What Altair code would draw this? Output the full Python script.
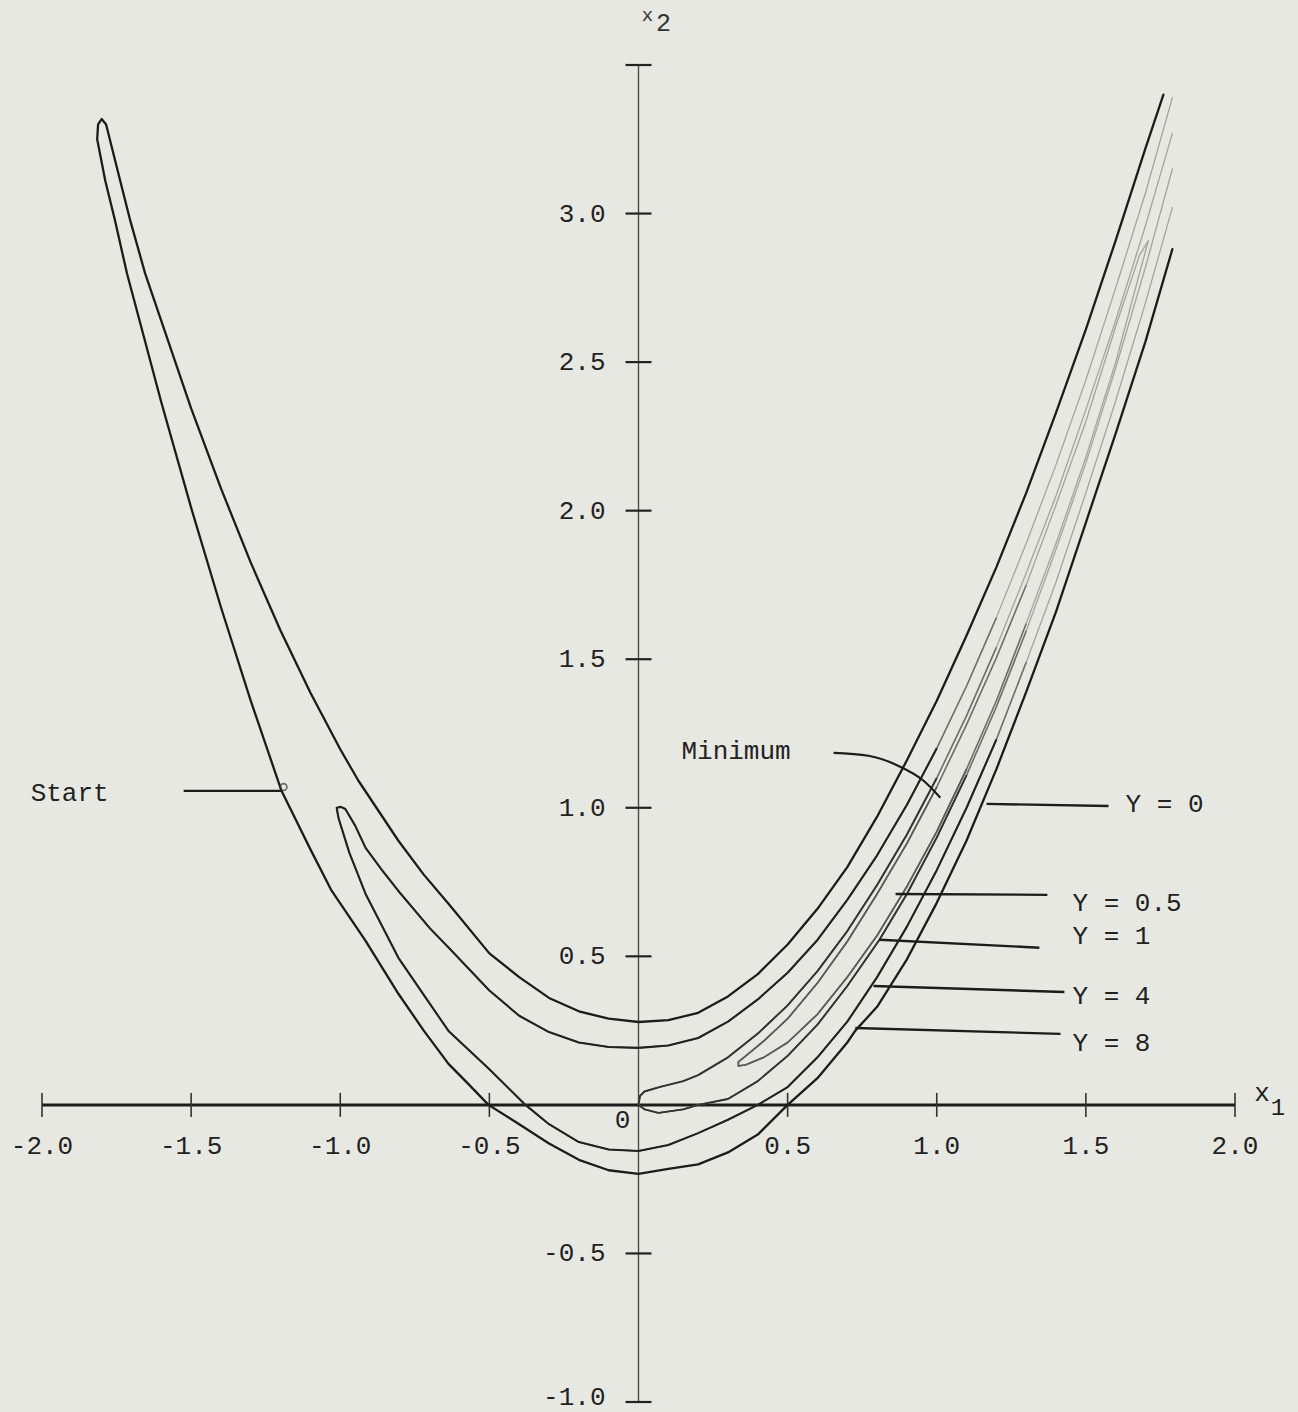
import altair as alt
import pandas as pd

# ---- contour lines of the objective, read as (x1, x2) points along each path ----
c8_x = [1.79, 1.70, 1.60, 1.50, 1.40, 1.30, 1.20, 1.10, 1.00, 0.90, 0.80, 0.727, 0.70, 0.60, 0.50,
        0.40, 0.30, 0.20, 0.10, 0.00,
        -0.10, -0.20, -0.30, -0.40, -0.503, -0.57, -0.637, -0.72, -0.805, -0.915, -1.029, -1.10, -1.197,
        -1.30, -1.40, -1.50, -1.60, -1.715, -1.755, -1.788, -1.815, -1.812, -1.800, -1.785, -1.766,
        -1.738, -1.704, -1.654, -1.50, -1.40, -1.30, -1.20, -1.10, -1.00, -0.939, -0.805, -0.72, -0.637,
        -0.50, -0.40, -0.30, -0.20, -0.10, 0.00,
        0.10, 0.20, 0.30, 0.40, 0.50, 0.60, 0.70, 0.80, 0.90, 1.00, 1.10, 1.20, 1.30, 1.40, 1.50, 1.60,
        1.70, 1.76]
c8_y = [2.88, 2.57, 2.26, 1.96, 1.66, 1.39, 1.13, 0.89, 0.68, 0.49, 0.33, 0.25, 0.21, 0.09, 0.00,
        -0.10, -0.16, -0.20, -0.215, -0.232,
        -0.22, -0.185, -0.13, -0.065, 0.00, 0.07, 0.138, 0.25, 0.374, 0.552, 0.721, 0.86, 1.057,
        1.36, 1.675, 2.01, 2.365, 2.798, 2.976, 3.111, 3.25, 3.30, 3.318, 3.30, 3.223,
        3.111, 2.976, 2.798, 2.344, 2.075, 1.825, 1.596, 1.387, 1.197, 1.091, 0.889, 0.775, 0.677,
        0.51, 0.43, 0.36, 0.315, 0.29, 0.279,
        0.285, 0.31, 0.365, 0.44, 0.54, 0.66, 0.80, 0.97, 1.16, 1.36, 1.58, 1.81, 2.06, 2.33, 2.61, 2.91,
        3.22, 3.40]

c4_x = [1.79, 1.70, 1.60, 1.50, 1.40, 1.30, 1.20, 1.10, 1.00, 0.90, 0.80, 0.70, 0.60, 0.50, 0.40,
        0.30, 0.20, 0.10, 0.00,
        -0.10, -0.20, -0.30, -0.379, -0.50, -0.637, -0.72, -0.805, -0.915, -0.97, -1.006, -1.012,
        -0.998, -0.983, -0.95, -0.915, -0.86, -0.805, -0.70, -0.637, -0.50, -0.40, -0.30, -0.20, -0.10, 0.00,
        0.10, 0.20, 0.30, 0.40, 0.50, 0.60, 0.70, 0.80, 0.90, 1.00, 1.10, 1.20, 1.30, 1.40, 1.50, 1.60,
        1.70, 1.79]
c4_y = [3.02, 2.70, 2.37, 2.06, 1.76, 1.49, 1.23, 1.00, 0.79, 0.60, 0.43, 0.28, 0.16, 0.06, 0.00,
        -0.05, -0.095, -0.135, -0.155,
        -0.15, -0.125, -0.065, 0.00, 0.12, 0.249, 0.37, 0.495, 0.71, 0.85, 0.966, 1.00,
        1.003, 0.996, 0.94, 0.865, 0.79, 0.72, 0.595, 0.53, 0.385, 0.30, 0.245, 0.21, 0.195, 0.192,
        0.20, 0.225, 0.28, 0.355, 0.445, 0.555, 0.69, 0.84, 1.01, 1.20, 1.41, 1.64, 1.89, 2.155, 2.44, 2.75,
        3.07, 3.39]

c1_x = [1.79, 1.70, 1.60, 1.50, 1.40, 1.30, 1.20, 1.10, 1.00, 0.90, 0.808, 0.70, 0.60, 0.50, 0.40,
        0.30, 0.20, 0.15, 0.067, 0.02, 0.00,
        0.005, 0.02, 0.07, 0.15, 0.20, 0.30, 0.40, 0.50, 0.60, 0.70, 0.80, 0.90, 1.00, 1.10, 1.20, 1.30,
        1.40, 1.50, 1.60, 1.70, 1.79]
c1_y = [3.15, 2.82, 2.48, 2.16, 1.87, 1.595, 1.34, 1.11, 0.90, 0.71, 0.556, 0.40, 0.27, 0.165, 0.08,
        0.02, 0.00, -0.015, -0.027, -0.015, 0.00,
        0.03, 0.045, 0.06, 0.08, 0.10, 0.16, 0.24, 0.335, 0.45, 0.585, 0.74, 0.91, 1.10, 1.31, 1.54, 1.79,
        2.05, 2.34, 2.64, 2.96, 3.27]

c05_x = [1.71, 1.68, 1.60, 1.50, 1.40, 1.30, 1.20, 1.10, 1.00, 0.90, 0.80, 0.70, 0.60, 0.50, 0.42,
         0.36, 0.335, 0.335, 0.36, 0.42, 0.50, 0.60, 0.70, 0.80, 0.90, 1.00, 1.10, 1.20, 1.30, 1.40,
         1.50, 1.60, 1.68, 1.71]
c05_y = [2.91, 2.80, 2.50, 2.18, 1.89, 1.62, 1.36, 1.13, 0.92, 0.735, 0.57, 0.43, 0.305, 0.21, 0.16,
         0.135, 0.131, 0.145, 0.165, 0.215, 0.29, 0.41, 0.55, 0.71, 0.88, 1.07, 1.28, 1.505, 1.75, 2.02,
         2.30, 2.62, 2.86, 2.91]

levels = ["Y = 8", "Y = 4", "Y = 1", "Y = 0.5"]
paths = [(c8_x, c8_y), (c4_x, c4_y), (c1_x, c1_y), (c05_x, c05_y)]

# ---- axes ----
x_ticks = [-2.0, -1.5, -1.0, -0.5, 0.5, 1.0, 1.5, 2.0]
x_tick_labels = ["-2.0", "-1.5", "-1.0", "-0.5", "0.5", "1.0", "1.5", "2.0"]
y_ticks = [-1.0, -0.5, 0.5, 1.0, 1.5, 2.0, 2.5, 3.0, 3.5]
y_tick_labels = ["-1.0", "-0.5", "0.5", "1.0", "1.5", "2.0", "2.5", "3.0", ""]

# ---- annotations: leader lines (x, y, x2, y2) and their labels ----
leader_names = ["Y = 0", "Y = 0.5", "Y = 1", "Y = 4", "Y = 8", "Start"]
leader_x = [1.167, 0.862, 0.808, 0.788, 0.727, -1.525]
leader_y = [1.013, 0.710, 0.556, 0.400, 0.259, 1.057]
leader_x2 = [1.576, 1.371, 1.344, 1.428, 1.415, -1.197]
leader_y2 = [1.006, 0.707, 0.529, 0.380, 0.239, 1.057]

label_x = [1.633, 1.455, 1.455, 1.455, 1.455, -2.038]
label_y = [1.013, 0.680, 0.569, 0.367, 0.209, 1.050]

minimum_x = [0.654, 0.771, 0.872, 0.956, 1.012]
minimum_y = [1.185, 1.175, 1.141, 1.091, 1.034]
minimum_label_x = [0.144]
minimum_label_y = [1.19]

start_x = [-1.19]
start_y = [1.07]

# ---- tables ----
rows = []
for name, (xs_, ys_) in zip(levels, paths):
    for i, (a, b) in enumerate(zip(xs_, ys_)):
        rows.append({"level": name, "i": i, "x": a, "y": b})
curves = pd.DataFrame(rows)

xt = pd.DataFrame({"v": x_ticks, "lab": x_tick_labels, "z": 0.0})
yt = pd.DataFrame({"v": y_ticks, "lab": y_tick_labels, "z": 0.0})
leaders = pd.DataFrame({"x": leader_x, "y": leader_y, "x2": leader_x2, "y2": leader_y2})
labels = pd.DataFrame({"x": label_x, "y": label_y, "t": leader_names})
arrow = pd.DataFrame({"x": minimum_x, "y": minimum_y, "i": list(range(len(minimum_x)))})
min_lab = pd.DataFrame({"x": minimum_label_x, "y": minimum_label_y, "t": ["Minimum"]})
start_pt = pd.DataFrame({"x": start_x, "y": start_y})
axes_df = pd.DataFrame({"x": [-2.0], "x2": [2.0], "y": [-1.0], "y2": [3.5], "z": [0.0]})

xs = alt.Scale(domain=[-2.0, 2.0], nice=False, zero=False)
ys = alt.Scale(domain=[-1.0, 3.5], nice=False, zero=False)

X = lambda f: alt.X(f, type="quantitative", scale=xs, axis=None)
Y = lambda f: alt.Y(f, type="quantitative", scale=ys, axis=None)

INK = "#1c1c1c"
FONT = "Liberation Mono"
inner = ["Y = 4", "Y = 1", "Y = 0.5"]

# outer contour: solid dark all the way round
outer_line = alt.Chart(curves).transform_filter(alt.datum.level == "Y = 8").mark_line(
    strokeJoin="round", strokeCap="round", color=INK, strokeWidth=2.3).encode(
    x=X("x"), y=Y("y"), order="i:Q")

inner_base = alt.Chart(curves).transform_filter(
    alt.FieldOneOfPredicate(field="level", oneOf=inner))

# inner contours fade out up the narrow valley: pale full paths, a mid tone lower down,
# and the well-inked part near the bottom on top
inner_pale = inner_base.mark_line(strokeJoin="round", strokeCap="round", color="#a3a39f",
                                  strokeWidth=1.3).encode(
    x=X("x"), y=Y("y"), order="i:Q", detail="level:N")
inner_mid = inner_base.transform_filter("datum.y <= 1.75").mark_line(
    strokeJoin="round", strokeCap="butt", color="#6f6f6c", strokeWidth=1.5).encode(
    x=X("x"), y=Y("y"), order="i:Q", detail="level:N")
inner_dark = inner_base.transform_filter("datum.y <= 1.25").mark_line(
    strokeJoin="round", strokeCap="butt").encode(
    x=X("x"), y=Y("y"), order="i:Q", detail="level:N",
    color=alt.Color("level:N", scale=alt.Scale(domain=inner, range=["#222222", "#333333", "#5c5c5c"]),
                    legend=None),
    strokeWidth=alt.StrokeWidth("level:N", scale=alt.Scale(domain=inner, range=[2.1, 1.7, 1.3]),
                                legend=None),
)

x_axis = alt.Chart(axes_df).mark_rule(color=INK, strokeWidth=3).encode(
    x=X("x"), x2="x2", y=Y("z"))
y_axis = alt.Chart(axes_df).mark_rule(color="#4a4a4a", strokeWidth=1.4).encode(
    x=X("z"), y=Y("y"), y2="y2")

x_tick_marks = alt.Chart(xt).mark_rule(color="#333", strokeWidth=1.6, yOffset=-12, y2Offset=12).encode(
    x=X("v"), y=Y("z"), y2="z")
y_tick_marks = alt.Chart(yt).mark_rule(color="#222", strokeWidth=2.2, xOffset=-13, x2Offset=13).encode(
    x=X("z"), x2="z", y=Y("v"))

x_tick_text = alt.Chart(xt).mark_text(font=FONT, fontSize=26, color="#222", dy=41,
                                      align="center", baseline="middle").encode(
    x=X("v"), y=Y("z"), text="lab:N")
y_tick_text = alt.Chart(yt[yt["v"] > -1.0]).mark_text(font=FONT, fontSize=26, color="#222", dx=-33,
                                                      align="right", baseline="middle").encode(
    x=X("z"), y=Y("v"), text="lab:N")
# the lowest label sits a little higher so it stays inside the page
y_tick_text_low = alt.Chart(yt[yt["v"] == -1.0]).mark_text(font=FONT, fontSize=26, color="#222", dx=-33,
                                                           dy=-5, align="right", baseline="middle").encode(
    x=X("z"), y=Y("v"), text="lab:N")

origin_df = pd.DataFrame({"x": [0.0], "y": [0.0], "t": ["0"]})
origin_text = alt.Chart(origin_df).mark_text(font=FONT, fontSize=26, color="#222", dx=-16, dy=15,
                                             align="center", baseline="middle").encode(
    x=X("x"), y=Y("y"), text="t:N")

x1_df = pd.DataFrame({"x": [2.0, 2.0], "y": [0.0, 0.0], "t": ["x", "1"]})
x1_x = alt.Chart(x1_df.iloc[[0]]).mark_text(font=FONT, fontSize=26, color="#222", dx=27, dy=-12,
                                           align="center", baseline="middle").encode(
    x=X("x"), y=Y("y"), text="t:N")
x1_1 = alt.Chart(x1_df.iloc[[1]]).mark_text(font=FONT, fontSize=24, color="#222", dx=43, dy=3,
                                           align="center", baseline="middle").encode(
    x=X("x"), y=Y("y"), text="t:N")

x2_df = pd.DataFrame({"x": [0.0, 0.0], "y": [3.5, 3.5], "t": ["x", "2"]})
x2_x = alt.Chart(x2_df.iloc[[0]]).mark_text(font=FONT, fontSize=19, color="#333", dx=9, dy=-50,
                                           align="center", baseline="middle").encode(
    x=X("x"), y=Y("y"), text="t:N")
x2_2 = alt.Chart(x2_df.iloc[[1]]).mark_text(font=FONT, fontSize=25, color="#333", dx=25, dy=-42,
                                           align="center", baseline="middle").encode(
    x=X("x"), y=Y("y"), text="t:N")

leader_rules = alt.Chart(leaders).mark_rule(color=INK, strokeWidth=2.4).encode(
    x=X("x"), y=Y("y"), x2="x2", y2="y2")
leader_text = alt.Chart(labels).mark_text(font=FONT, fontSize=26, color="#222",
                                          align="left", baseline="middle").encode(
    x=X("x"), y=Y("y"), text="t:N")

min_arrow = alt.Chart(arrow).mark_line(color=INK, strokeWidth=2.2, interpolate="monotone").encode(
    x=X("x"), y=Y("y"), order="i:Q")
min_text = alt.Chart(min_lab).mark_text(font=FONT, fontSize=26, color="#222",
                                        align="left", baseline="middle").encode(
    x=X("x"), y=Y("y"), text="t:N")

start_mark = alt.Chart(start_pt).mark_point(shape="circle", size=45, filled=False, color="#333",
                                             strokeWidth=1.6).encode(x=X("x"), y=Y("y"))

chart = alt.layer(
    y_axis, x_axis, x_tick_marks, y_tick_marks,
    inner_pale, inner_mid, inner_dark, outer_line, leader_rules, min_arrow, start_mark,
    x_tick_text, y_tick_text, y_tick_text_low, origin_text, x1_x, x1_1, x2_x, x2_2,
    leader_text, min_text,
).properties(
    width=1193, height=1337,
    padding={"left": 42, "top": 65, "right": 63, "bottom": 10},
    autosize=alt.AutoSizeParams(type="none"),
    background="#e8e8e3",
).configure_view(strokeWidth=0)

chart.save("out.html", embed_options={"renderer": "svg", "actions": False})
